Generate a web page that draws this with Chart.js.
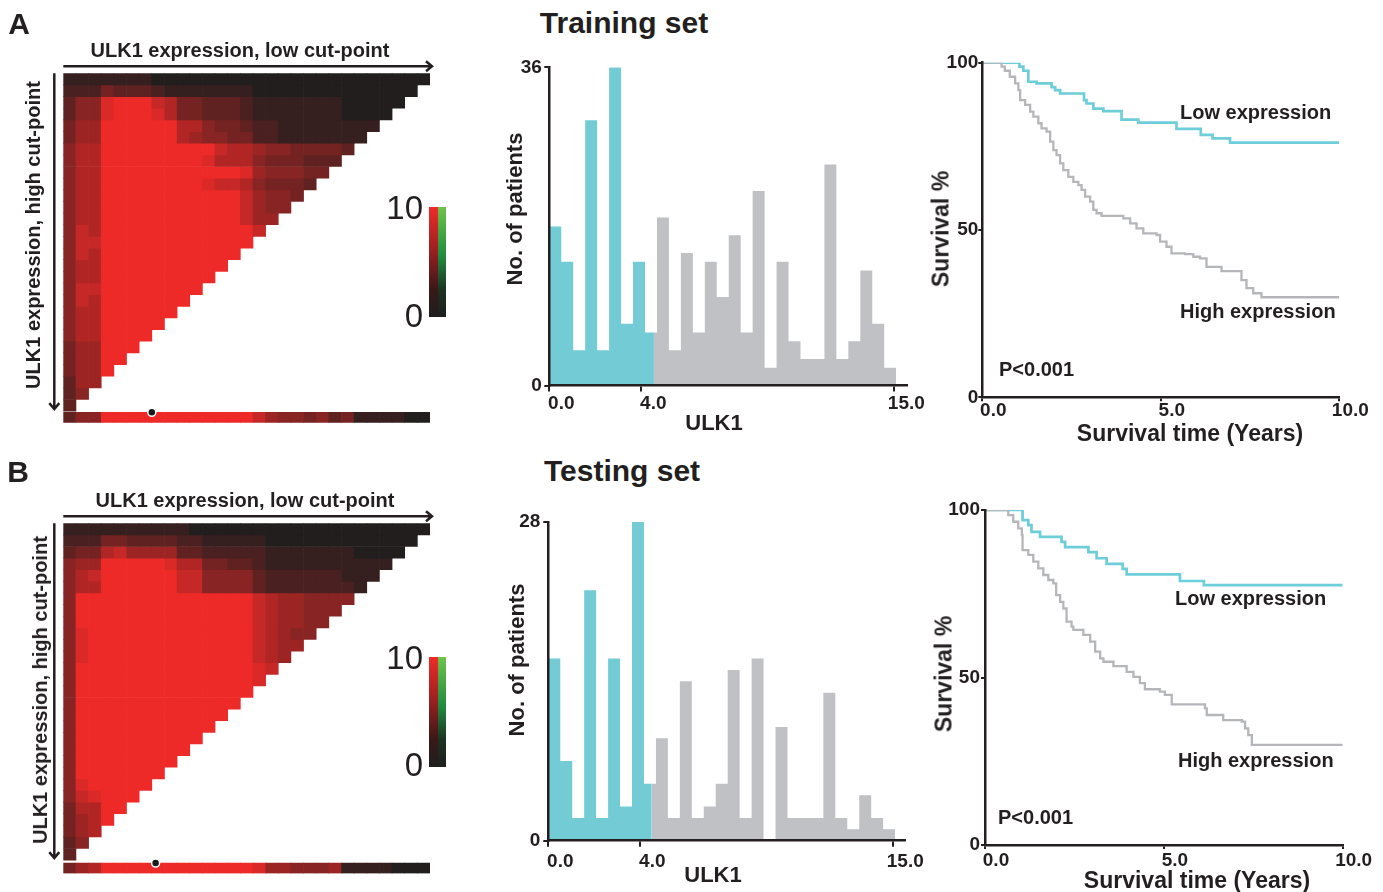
<!DOCTYPE html>
<html lang="en">
<head>
    <meta charset="UTF-8">
    <title>ULK1 cut-point, distribution and survival</title>
    <script src="https://cdn.jsdelivr.net/npm/chart.js"></script>
    <style>
        body { margin: 0; background: #fff; }
        #figure {
            position: relative;
            width: 1383px;
            height: 892px;
            overflow: hidden;
            font-family: 'Liberation Sans', Arial, Helvetica, sans-serif;
            color: #231f20;
        }
        #figure canvas { position: absolute; }
        .txt { position: absolute; white-space: nowrap; line-height: 1; font-weight: bold; transform: translate(-50%, -50%); }
        .txt.l { transform: translate(0, -50%); }
        .txt.r { transform: translate(-100%, -50%); font-weight: normal; font-size: 33px; }
        .txt.v { transform: translate(-50%, -50%) rotate(-90deg); }
        .key { position: absolute; left: 429px; width: 17px; height: 110px; display: flex; }
        .key .red { flex: 1; background: linear-gradient(#ef2b29, #9a2020 40%, #3a1818 75%, #1e1e1e); }
        .key .green { flex: 1; background: linear-gradient(#6fc24c, #1f8b3e 45%, #1d3322 75%, #1e1e1e); }
    </style>
</head>
<body>
<div id="figure">
    <canvas id="heatA" width="470" height="440" style="left:0;top:0"></canvas>
    <canvas id="heatB" width="470" height="442" style="left:0;top:450px"></canvas>
    <canvas id="histA" width="460" height="410" style="left:480px;top:40px"></canvas>
    <canvas id="histB" width="460" height="402" style="left:480px;top:490px"></canvas>
    <canvas id="kmA" width="483" height="420" style="left:900px;top:40px"></canvas>
    <canvas id="kmB" width="483" height="402" style="left:900px;top:490px"></canvas>

    <div class="txt" style="left:19px;top:24px;font-size:30px">A</div>
    <div class="txt" style="left:18px;top:472px;font-size:30px">B</div>
    <div class="txt" style="left:624px;top:23px;font-size:30px">Training set</div>
    <div class="txt" style="left:622px;top:471px;font-size:30px">Testing set</div>

    <div class="txt" style="left:240px;top:50px;font-size:20px">ULK1 expression, low cut-point</div>
    <div class="txt v" style="left:33px;top:235px;font-size:20px">ULK1 expression, high cut-point</div>
    <div class="txt" style="left:245px;top:500px;font-size:20px">ULK1 expression, low cut-point</div>
    <div class="txt v" style="left:40px;top:690px;font-size:20px">ULK1 expression, high cut-point</div>

    <div class="key" style="top:207px"><div class="red"></div><div class="green"></div></div>
    <div class="key" style="top:657px"><div class="red"></div><div class="green"></div></div>
    <div class="txt r" style="left:423px;top:207px">10</div>
    <div class="txt r" style="left:423px;top:315px">0</div>
    <div class="txt r" style="left:423px;top:657px">10</div>
    <div class="txt r" style="left:423px;top:764px">0</div>

    <div class="txt v" style="left:515px;top:209px;font-size:22px">No. of patients</div>
    <div class="txt" style="left:714px;top:423px;font-size:22px">ULK1</div>
    <div class="txt v" style="left:517px;top:660px;font-size:22px">No. of patients</div>
    <div class="txt" style="left:713px;top:875px;font-size:22px">ULK1</div>

    <div class="txt v" style="left:941px;top:229px;font-size:23px">Survival %</div>
    <div class="txt" style="left:1190px;top:433px;font-size:23px">Survival time (Years)</div>
    <div class="txt v" style="left:944px;top:674px;font-size:23px">Survival %</div>
    <div class="txt" style="left:1197px;top:880px;font-size:23px">Survival time (Years)</div>

    <div class="txt l" style="left:1180px;top:112px;font-size:20px">Low expression</div>
    <div class="txt l" style="left:1180px;top:311px;font-size:20px">High expression</div>
    <div class="txt l" style="left:999px;top:369px;font-size:20px">P&lt;0.001</div>
    <div class="txt l" style="left:1175px;top:598px;font-size:20px">Low expression</div>
    <div class="txt l" style="left:1178px;top:760px;font-size:20px">High expression</div>
    <div class="txt l" style="left:998px;top:817px;font-size:20px">P&lt;0.001</div>
</div>

<script>
    // cut-point grids: one string per high cut-point (top to bottom), one hex digit per
    // low cut-point (left to right), statistic on a 0-10 scale (a = 10). Spaces are just for reading.
    const heatRowsA = [
        '11111 11000 00000 00000 00000 0000',
        '22243 33211 11111 00000 00000 000',
        '3559a aa874 43332 11111 11000 00',
        '3559a aa974 43332 11111 11000 0',
        '466aa aaaa7 75443 22111 11111',
        '466aa aaaa7 65544 22111 1111',
        '577aa aaaaa aa877 65544 443',
        '577aa aaaaa a9777 54443 33',
        '577aa aaaaa aaaa9 65554 4',
        '577aa aaaaa a9887 54443',
        '577aa aaaaa aaaa8 6554',
        '577aa aaaaa aaaa8 655',
        '577aa aaaaa aaaa8 66',
        '587aa aaaaa aaaaa 8',
        '588aa aaaaa aaaaa',
        '587aa aaaaa aaaa',
        '577aa aaaaa aaa',
        '577aa aaaaa aa',
        '588aa aaaaa a',
        '587aa aaaaa',
        '577aa aaaa',
        '577aa aaa',
        '577aa aa',
        '466aa a',
        '466aa',
        '466a',
        '366',
        '35',
        '3'
    ];
    const heatStripA = '355aa aaaaa aaaaa 86554 53411 1100';
    const heatDotA = 7.0;

    const heatRowsB = [
        '11111 11111 00000 00000 00000 0000',
        '22244 33332 21111 10000 00000 000',
        '34478 66663 32222 21111 11100 00',
        '566aa aaa97 74433 21111 11111 1',
        '578aa aaaa8 85555 32222 22111',
        '577aa aaaa8 85555 32222 2221',
        '5aaaa aaaaa aaaaa 87665 555',
        '5aaaa aaaaa aaaaa 87665 55',
        '5aaaa aaaaa aaaaa 87665 5',
        '59aaa aaaaa aaaaa 87655',
        '59aaa aaaaa aaaaa 8766',
        '59aaa aaaaa aaaaa 876',
        '5aaaa aaaaa aaaaa 98',
        '5aaaa aaaaa aaaaa 9',
        '5aaaa aaaaa aaaaa',
        '5aaaa aaaaa aaaa',
        '5aaaa aaaaa aaa',
        '5aaaa aaaaa aa',
        '5aaaa aaaaa a',
        '5aaaa aaaaa',
        '5aaaa aaaa',
        '5aaaa aaa',
        '59aaa aa',
        '589aa a',
        '477aa',
        '467a',
        '467',
        '35',
        '3'
    ];
    const heatStripB = '467aa aaaaa aaaaa 96655 56111 1000';
    const heatDotB = 7.3;

    // ULK1 histograms (patients per bin)
    const binWidth = 0.52;
    const histCountsA = [18, 14, 4, 30, 4, 36, 7, 14, 6, 19, 4, 15, 6, 14, 10, 17, 6, 22, 2, 14, 5, 3, 3, 25, 3, 5, 13, 7, 2];
    const histCountsB = [16, 7, 2, 22, 2, 16, 3, 28, 5, 9, 2, 14, 2, 3, 5, 15, 2, 16, 0, 10, 2, 2, 2, 13, 2, 1, 4, 2, 1];
    const histCutA = 4.55;
    const histCutB = 4.5;
    const histTicks = [0, 4, 15];

    // Kaplan-Meier steps: [years, survival %]
    const kmLowA = [[0, 100], [1.04, 98.8], [1.15, 97.6], [1.29, 94.3], [1.52, 93.8], [1.94, 92.7], [2.04, 91.8],
        [2.18, 90.8], [2.85, 88.8], [2.92, 87.8], [3.11, 86.3], [3.39, 85.5], [3.9, 83], [4.37, 82.1],
        [5.44, 80.2], [6.12, 78.4], [6.45, 77.4], [6.94, 76.1], [10, 76.1]];
    const kmHighA = [[0, 100], [0.54, 98.8], [0.63, 97.6], [0.77, 95.8], [0.92, 93.8], [1.01, 91.8], [1.06, 88.8],
        [1.2, 87.4], [1.34, 85.4], [1.43, 83.9], [1.57, 81.9], [1.66, 80.4], [1.8, 79.4], [1.9, 76.4],
        [1.99, 73.9], [2.08, 72.4], [2.18, 69.9], [2.27, 67.9], [2.41, 65.9], [2.55, 64.4], [2.69, 63.4],
        [2.78, 62], [2.88, 60], [3.02, 58.5], [3.11, 56], [3.2, 55], [3.34, 54.2], [3.95, 53.5], [4.14, 52],
        [4.32, 50.5], [4.51, 49], [4.88, 48.5], [4.98, 46.5], [5.16, 45], [5.3, 43], [5.68, 42.8], [5.91, 42],
        [6.1, 41.5], [6.28, 39], [6.7, 37.7], [7.26, 35], [7.4, 32.6], [7.59, 31.1], [7.82, 29.9], [10, 29.9]];
    const kmLowB = [[0, 100], [1.05, 97], [1.21, 95.5], [1.3, 93.5], [1.54, 92], [2.14, 90.5], [2.24, 88.9],
        [2.89, 87.4], [3.12, 85.6], [3.4, 83.9], [3.85, 82.4], [3.96, 80.8], [5.45, 78.8], [6.12, 77.6], [10, 77.6]];
    const kmHighB = [[0, 100], [0.65, 98.5], [0.79, 96.5], [0.93, 94.5], [1.03, 92.5], [1.05, 88], [1.21, 86.6],
        [1.35, 84.6], [1.49, 82.6], [1.63, 80.6], [1.77, 79.1], [1.91, 78.1], [1.99, 74.6], [2.1, 72.6],
        [2.19, 70.6], [2.28, 66.7], [2.42, 65.2], [2.47, 64.2], [2.75, 62.7], [2.94, 60.7], [3.08, 57.7],
        [3.22, 55.7], [3.31, 54.7], [3.59, 53.4], [3.96, 51.7], [4.15, 50.2], [4.33, 48.3], [4.47, 46.5],
        [4.89, 45.8], [5.03, 44.8], [5.22, 42], [6.15, 40.8], [6.2, 38.8], [6.66, 37.3], [7.18, 36.8],
        [7.27, 34.8], [7.36, 32.8], [7.46, 29.9], [10, 29.9]];
    const kmTicksX = [0, 5, 10];
    const kmTicksY = [0, 50, 100];

    const ink = '#231f20';
    const cyanFill = '#73cbd6';
    const greyFill = '#c0c1c5';
    const cyanLine = '#6dcdd9';
    const greyLine = '#b5b6b9';
    const tickFont = { size: 19, weight: 'bold' };

    Chart.defaults.font.family = "'Liberation Sans', Arial, Helvetica, sans-serif";
    Chart.defaults.color = ink;

    function heatColor(v) {
        const t = v / 10;
        return 'rgb(' + Math.round(34 + 204 * t) + ',' + Math.round(30 + 12 * t) + ',' + Math.round(30 + 10 * t) + ')';
    }

    // arrows along the top and left of the cut-point grid
    const cutArrows = {
        id: 'cutArrows',
        afterDraw(chart) {
            const { ctx, chartArea: a } = chart;
            const gridBottom = chart.scales.y.getPixelForValue(29);
            const ty = a.top - 7;
            const lx = a.left - 9;
            ctx.save();
            ctx.strokeStyle = ink;
            ctx.lineWidth = 2.5;
            ctx.beginPath();
            ctx.moveTo(a.left, ty);
            ctx.lineTo(a.right + 2, ty);
            ctx.moveTo(a.right - 4, ty - 5);
            ctx.lineTo(a.right + 2, ty);
            ctx.lineTo(a.right - 4, ty + 5);
            ctx.moveTo(lx, a.top);
            ctx.lineTo(lx, gridBottom - 2);
            ctx.moveTo(lx - 5, gridBottom - 8);
            ctx.lineTo(lx, gridBottom - 2);
            ctx.lineTo(lx + 5, gridBottom - 8);
            ctx.stroke();
            ctx.restore();
        }
    };

    function drawHeat(id, rows, strip, stripY, dotX, yMax, bottomPad) {
        const datasets = [{
            type: 'scatter',
            order: -1,
            data: [{ x: dotX, y: stripY[0] }],
            pointRadius: 4,
            pointBackgroundColor: '#1a1a1a',
            pointBorderColor: '#fff',
            pointBorderWidth: 1.5
        }];
        rows.concat([strip]).forEach((row, r) => {
            const vals = row.replace(/ /g, '').split('').map(ch => parseInt(ch, 16));
            const span = r < rows.length ? [r, r + 1] : stripY;
            datasets.push({
                data: vals.map((v, c) => ({ x: c + 0.5, y: span })),
                backgroundColor: vals.map(heatColor)
            });
        });
        new Chart(document.getElementById(id), {
            type: 'bar',
            data: { datasets },
            options: {
                responsive: false,
                animation: false,
                events: [],
                layout: { padding: { left: 63.3, top: 73.3, right: 40, bottom: bottomPad } },
                datasets: { bar: { grouped: false, categoryPercentage: 1, barPercentage: 1, borderWidth: 0 } },
                plugins: { legend: { display: false }, tooltip: { enabled: false } },
                scales: {
                    x: { type: 'linear', display: false, min: 0, max: 29, offset: false },
                    y: { display: false, min: 0, max: yMax, reverse: true }
                }
            },
            plugins: [cutArrows]
        });
    }

    function axisStyle(tickLen) {
        return {
            grid: { drawOnChartArea: false, tickLength: tickLen, color: ink, lineWidth: 2 },
            border: { color: ink, width: 2.5, z: 1 }
        };
    }

    function drawHist(id, counts, cut, yTop, xMax, box) {
        const low = [];
        const high = [];
        counts.forEach((n, i) => {
            (i * binWidth < cut ? low : high).push({ x: i * binWidth, y: n });
        });
        const splitCount = counts[Math.floor(cut / binWidth)];
        low.push({ x: cut, y: splitCount });
        high.unshift({ x: cut, y: splitCount });
        high.push({ x: counts.length * binWidth, y: counts[counts.length - 1] });

        new Chart(document.getElementById(id), {
            type: 'line',
            data: {
                datasets: [
                    { data: low, backgroundColor: cyanFill },
                    { data: high, backgroundColor: greyFill }
                ]
            },
            options: {
                responsive: false,
                animation: false,
                events: [],
                layout: { padding: { left: 0, top: box.top, right: box.right, bottom: 0 } },
                datasets: { line: { fill: 'origin', stepped: true, borderWidth: 0, borderColor: 'rgba(0,0,0,0)', pointRadius: 0 } },
                plugins: { legend: { display: false }, tooltip: { enabled: false } },
                scales: {
                    x: {
                        type: 'linear', min: 0, max: xMax,
                        afterBuildTicks: s => { s.ticks = histTicks.map(v => ({ value: v })); },
                        afterFit: s => { s.height = box.xH; },
                        ticks: { font: tickFont, color: ink, padding: box.xPad, labelOffset: 12, maxRotation: 0, autoSkip: false, callback: v => v.toFixed(1) },
                        ...axisStyle(6)
                    },
                    y: {
                        min: 0, max: yTop,
                        afterBuildTicks: s => { s.ticks = [0, yTop].map(v => ({ value: v })); },
                        afterFit: s => { s.width = box.yW; },
                        ticks: { font: tickFont, color: ink, padding: box.yPad, autoSkip: false },
                        ...axisStyle(5)
                    }
                }
            }
        });
    }

    function drawKM(id, low, high, box) {
        const pts = arr => arr.map(p => ({ x: p[0], y: p[1] }));
        new Chart(document.getElementById(id), {
            type: 'line',
            data: {
                datasets: [
                    { data: pts(high), borderColor: greyLine, borderWidth: 2.3 },
                    { data: pts(low), borderColor: cyanLine, borderWidth: 2.7 }
                ]
            },
            options: {
                responsive: false,
                animation: false,
                events: [],
                layout: { padding: { left: 0, top: box.top, right: box.right, bottom: 0 } },
                datasets: { line: { stepped: true, fill: false, pointRadius: 0 } },
                plugins: { legend: { display: false }, tooltip: { enabled: false } },
                scales: {
                    x: {
                        type: 'linear', min: 0, max: 10,
                        afterBuildTicks: s => { s.ticks = kmTicksX.map(v => ({ value: v })); },
                        afterFit: s => { s.height = box.xH; },
                        ticks: { font: tickFont, color: ink, padding: box.xPad, labelOffset: 11, maxRotation: 0, autoSkip: false, callback: v => v.toFixed(1) },
                        ...axisStyle(4)
                    },
                    y: {
                        min: 0, max: 100,
                        afterBuildTicks: s => { s.ticks = kmTicksY.map(v => ({ value: v })); },
                        afterFit: s => { s.width = box.yW; },
                        ticks: { font: tickFont, color: ink, padding: box.yPad, autoSkip: false },
                        ...axisStyle(4)
                    }
                }
            }
        });
    }

    drawHeat('heatA', heatRowsA, heatStripA, [29.1, 30.0], heatDotA, 30.0, 17.2);
    drawHeat('heatB', heatRowsB, heatStripB, [29.25, 30.15], heatDotB, 30.15, 18.5);

    drawHist('histA', histCountsA, histCutA, 36, 15.55, { top: 27.3, right: 33, xH: 64.5, yW: 69.3, xPad: 1, yPad: 2.5 });
    drawHist('histB', histCountsB, histCutB, 28, 15.51, { top: 32, right: 35, xH: 51.3, yW: 68.3, xPad: 3.4, yPad: 3 });

    drawKM('kmA', kmLowA, kmHighA, { top: 22.7, right: 43.7, xH: 62.7, yW: 82.3, xPad: -1.5, yPad: 0 });
    drawKM('kmB', kmLowB, kmHighB, { top: 20, right: 40.3, xH: 47, yW: 85, xPad: 0, yPad: 1 });
</script>
</body>
</html>
